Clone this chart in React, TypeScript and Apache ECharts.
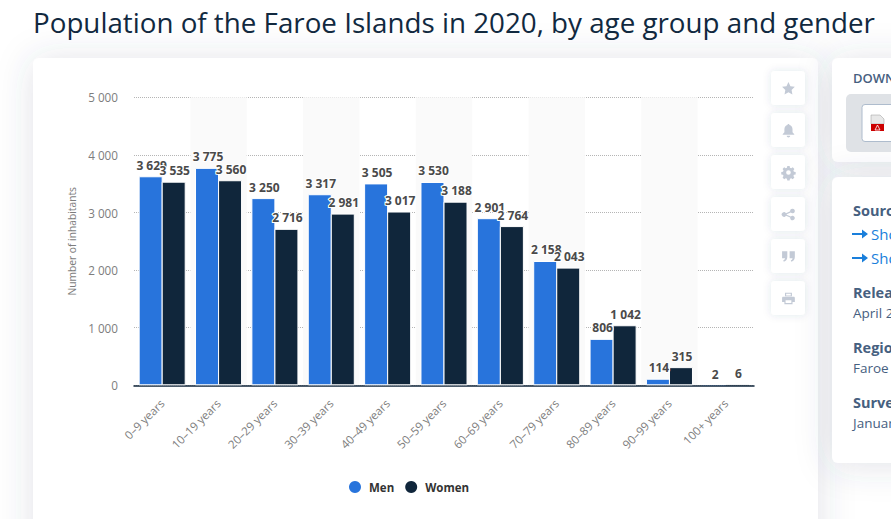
import React, { useEffect, useRef } from "react";
import * as echarts from "echarts";

const categories = ["0–9 years", "10–19 years", "20–29 years", "30–39 years", "40–49 years", "50–59 years", "60–69 years", "70–79 years", "80–89 years", "90–99 years", "100+ years"];
const men = [3629, 3775, 3250, 3317, 3505, 3530, 2901, 2158, 806, 114, 2];
const women = [3535, 3560, 2716, 2981, 3017, 3188, 2764, 2043, 1042, 315, 6];
const yTicks = { min: 0, max: 5000, interval: 1000 };
const titleText = "Population of the Faroe Islands in 2020, by age group and gender";

const BLUE = "#2874dc";
const NAVY = "#10263b";
const spaced = (v: number) => String(v).replace(/\B(?=(\d{3})+$)/g, " ");

const icons: Record<string, string> = {
  icoStar: "M12 1l3.4 7.2 7.6 1-5.6 5.4 1.4 7.8L12 18.6l-6.8 3.8 1.4-7.8L1 9.2l7.6-1z",
  icoBell: "M12 1c1 0 1.8.8 1.8 1.8C17 3.6 19 6.4 19 10v5l3 3.5v1H2v-1L5 15v-5c0-3.6 2-6.4 5.2-7.2C10.2 1.8 11 1 12 1zM9 21h6c0 1.6-1.4 3-3 3s-3-1.4-3-3z",
  icoGear: "M10 1h4l.6 3 2.2.9 2.6-1.7 2.8 2.8-1.7 2.6.9 2.2 3 .6v4l-3 .6-.9 2.2 1.7 2.6-2.8 2.8-2.6-1.7-2.2.9-.6 3h-4l-.6-3-2.2-.9-2.6 1.7-2.8-2.8 1.7-2.6-.9-2.2-3-.6v-4l3-.6.9-2.2-1.7-2.6 2.8-2.8 2.6 1.7 2.2-.9zM12 8a4 4 0 1 0 0 8 4 4 0 0 0 0-8z",
  icoShare: "M19 2a4 4 0 1 1-3 6.6l-7.1 3a4 4 0 0 1 0 .8l7.1 3a4 4 0 1 1-1 2l-7.3-3.1a4 4 0 1 1 0-4.6L15 6.600a4 4 0 0 1 4-4.600z",
  icoQuote: "M1 3h9v10c0 4-2 7-6 8l-1-2.500c2-.6 3-2 3-3.500H1zM14 3h9v10c0 4-2 7-6 8l-1-2.500c2-.6 3-2 3-3.500h-5z",
  icoPrint: "M6 2h12v6H6zM8 4v3h8V4zM3 9h18c1.100 0 2 .9 2 2v7h-4v4H5v-4H1v-7c0-1.100.9-2 2-2zM7 15v5h10v-5z",
  icoArrow: "M0 6h10V2.500L16 7l-6 4.500V8H0z",
};
Object.entries(icons).forEach(([name, d]) => {
  echarts.graphic.registerShape(name, echarts.graphic.extendPath(d, {}) as any);
});

const card = (x: number, y: number, width: number, height: number) => ({
  type: "rect", z: -10, silent: true,
  shape: { x, y, width, height, r: 6 },
  style: { fill: "#ffffff", shadowBlur: 36, shadowColor: "rgba(60,80,110,0.16)", shadowOffsetY: 2 },
});
const toolY = [71, 113, 155, 197, 239, 281];
const toolIcons = ["icoStar", "icoBell", "icoGear", "icoShare", "icoQuote", "icoPrint"];
const txt = (x: number, y: number, text: string, fill: string, font: string) => ({
  type: "text", z: -5, silent: true, x, y,
  style: { text, fill, font, textVerticalAlign: "middle" },
});
const SIDE_H = "700 14.5px 'Open Sans'";
const SIDE_B = "400 13.5px 'Open Sans'";
const SIDE_C = "#46607f";
const LINK = "#1a7fdb";

// Very small bars get no white outline, so that it does not cut into the axis line.
const withBorder = (values: number[]) =>
  values.map((value) => ({ value, itemStyle: { borderWidth: value < 50 ? 0 : 1, borderColor: "#ffffff" } }));

export default function App() {
  const ref = useRef<HTMLDivElement>(null);
  useEffect(() => {
    document.body.style.margin = "0";
    const chart = echarts.init(ref.current!, undefined, { renderer: "svg" });
    const labelStyle = {
      show: true, position: "top" as const, distance: 5, offset: [1, 0],
      formatter: (p: any) => spaced(p.value),
      color: "#4a4a4a", fontFamily: "Open Sans", fontWeight: 700 as const, fontSize: 12,
      textBorderColor: "#ffffff", textBorderWidth: 2,
    };
    chart.setOption({
      animation: false,
      backgroundColor: "#ffffff",
      title: {
        text: titleText, left: 33, top: 8, padding: 0,
        textStyle: { fontFamily: "Open Sans", fontWeight: 400, fontSize: 27.750, color: "#11293f" },
      },
      graphic: [
        {
          type: "group", z: -10, silent: true,
          children: [
            card(33, 58, 785, 500),
            card(832, 58, 100, 104),
            card(832, 177, 100, 286),
            ...toolY.map((y) => ({
              type: "rect", z: -4, silent: true,
              shape: { x: 771, y, width: 34, height: 34, r: 4 },
              style: { fill: "#ffffff", shadowBlur: 8, shadowColor: "rgba(60,80,110,0.12)" },
            })),
            ...toolIcons.map((t, i) => ({
              type: t, z: -3, silent: true, x: 781.500, y: toolY[i] + 10.500, scaleX: 0.58, scaleY: 0.58,
              style: { fill: "#c3cad6" },
            })),
            { type: "rect", z: -4, silent: true, shape: { x: 846, y: 94, width: 70, height: 58, r: 5 }, style: { fill: "#dfe2e6" } },
            { type: "rect", z: -3, silent: true, shape: { x: 862, y: 104.500, width: 50, height: 37, r: 3 }, style: { fill: "#ffffff", stroke: "#aebccd", lineWidth: 1 } },
            { type: "polygon", z: -2, silent: true, shape: { points: [[871, 115], [880, 115], [884, 119], [884, 124], [871, 124]] }, style: { fill: "#e8e8e8", stroke: "#9a9a9a", lineWidth: 0.5 } },
            { type: "rect", z: -2, silent: true, shape: { x: 871, y: 124, width: 13, height: 7 }, style: { fill: "#cc0000" } },
            { type: "polygon", z: -1, silent: true, shape: { points: [[877.500, 125], [880, 130], [875, 130]] }, style: { fill: "none", stroke: "#ffffff", lineWidth: 0.8 } },
            txt(853, 78, "DOWNLOAD", SIDE_C, "600 13px 'Open Sans'"),
            txt(853, 210, "Source", SIDE_C, SIDE_H),
            { type: "icoArrow", z: -5, silent: true, x: 852, y: 227, style: { fill: LINK } },
            txt(871, 234, "Show source", LINK, "400 15px 'Open Sans'"),
            { type: "icoArrow", z: -5, silent: true, x: 852, y: 251, style: { fill: LINK } },
            txt(871, 258, "Show publisher", LINK, "400 15px 'Open Sans'"),
            txt(853, 292, "Release date", SIDE_C, SIDE_H),
            txt(853, 313, "April 2020", SIDE_C, SIDE_B),
            txt(853, 347, "Region", SIDE_C, SIDE_H),
            txt(853, 368, "Faroe Islands", SIDE_C, SIDE_B),
            txt(853, 402, "Survey time period", SIDE_C, SIDE_H),
            txt(853, 423, "January 2020", SIDE_C, SIDE_B),
          ],
        },
      ],
      legend: {
        data: ["Men", "Women"], left: 349, top: 481, padding: 0, icon: "circle",
        itemWidth: 12, itemHeight: 12, itemGap: 11,
        textStyle: { fontFamily: "Open Sans", fontWeight: 700, fontSize: 11.500, color: "#333333", padding: [0, 0, 0, 3] },
      },
      grid: { left: 134, right: 137, top: 97.300, bottom: 133.700 },
      xAxis: {
        type: "category", data: categories,
        axisLine: { lineStyle: { color: NAVY, width: 1.5 } },
        axisTick: { show: false },
        axisLabel: { rotate: 45, margin: 16, interval: 0, color: "#7d7d7d", fontFamily: "Open Sans", fontSize: 11.500 },
        splitArea: { show: true, interval: 0, areaStyle: { color: ["rgba(0,0,0,0)", "#fafafa"] } },
      },
      yAxis: {
        type: "value", ...yTicks,
        name: "Number of inhabitants", nameLocation: "middle", nameGap: 57, nameRotate: 90,
        nameTextStyle: { color: "#7d7d7d", fontFamily: "Open Sans", fontSize: 10.250 },
        axisLine: { show: false }, axisTick: { show: false },
        axisLabel: { margin: 16, color: "#7d7d7d", fontFamily: "Open Sans", fontSize: 11.700, formatter: (v: number) => spaced(v) },
        splitLine: { lineStyle: { type: "dotted", color: "#b5b5b5", width: 1 } },
      },
      series: [
        { name: "Men", type: "bar", data: withBorder(men), barWidth: 24, barGap: "-4%", itemStyle: { color: BLUE }, label: labelStyle },
        { name: "Women", type: "bar", data: withBorder(women), barWidth: 24, itemStyle: { color: NAVY }, label: labelStyle },
      ],
    });
    return () => chart.dispose();
  }, []);
  return <div ref={ref} style={{ position: "absolute", left: 0, top: 0, width: 891, height: 519, overflow: "hidden" }} />;
}
